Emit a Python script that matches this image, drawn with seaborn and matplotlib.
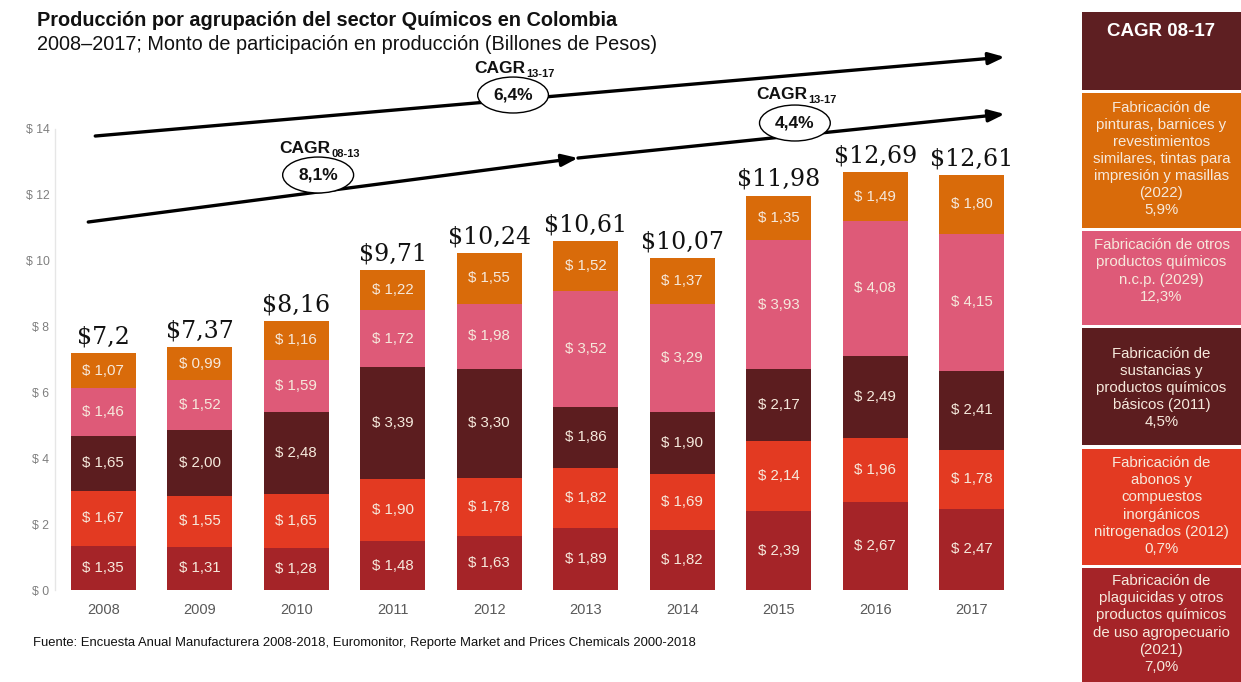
import numpy as np
import pandas as pd
import matplotlib
matplotlib.use("Agg")
import matplotlib.pyplot as plt
import seaborn as sns
from matplotlib.patches import Rectangle

# ---------------- data ----------------
years = ["2008", "2009", "2010", "2011", "2012", "2013", "2014", "2015", "2016", "2017"]
plaguicidas = [1.35, 1.31, 1.28, 1.48, 1.63, 1.89, 1.82, 2.39, 2.67, 2.47]
abonos = [1.67, 1.55, 1.65, 1.90, 1.78, 1.82, 1.69, 2.14, 1.96, 1.78]
basicos = [1.65, 2.00, 2.48, 3.39, 3.30, 1.86, 1.90, 2.17, 2.49, 2.41]
otros = [1.46, 1.52, 1.59, 1.72, 1.98, 3.52, 3.29, 3.93, 4.08, 4.15]
pinturas = [1.07, 0.99, 1.16, 1.22, 1.55, 1.52, 1.37, 1.35, 1.49, 1.80]
totals = ["$7,2", "$7,37", "$8,16", "$9,71", "$10,24", "$10,61", "$10,07", "$11,98", "$12,69", "$12,61"]
ytick_vals = [0, 2, 4, 6, 8, 10, 12, 14]

legend_texts = [
    "Fabricación de\npinturas, barnices y\nrevestimientos\nsimilares, tintas para\nimpresión y masillas\n(2022)\n5,9%",
    "Fabricación de otros\nproductos químicos\nn.c.p. (2029)\n12,3%",
    "Fabricación de\nsustancias y\nproductos químicos\nbásicos (2011)\n4,5%",
    "Fabricación de\nabonos y\ncompuestos\ninorgánicos\nnitrogenados (2012)\n0,7%",
    "Fabricación de\nplaguicidas y otros\nproductos químicos\nde uso agropecuario\n(2021)\n7,0%",
]

title = "Producción por agrupación del sector Químicos en Colombia"
subtitle = "2008–2017; Monto de participación en producción (Billones de Pesos)"
source = "Fuente: Encuesta Anual Manufacturera 2008-2018, Euromonitor, Reporte Market and Prices Chemicals 2000-2018"

# ---------------- style ----------------
sns.set_theme(style="white")
plt.rcParams["font.family"] = ["Liberation Sans", "DejaVu Sans"]

C_CRIMSON = "#A52428"
C_RED = "#E33A22"
C_DARK = "#5C1D1F"
C_PINK = "#DE5A78"
C_ORANGE = "#D96B0A"
LABEL_C = "#F6E9DC"

layers = [plaguicidas, abonos, basicos, otros, pinturas]
colors = [C_CRIMSON, C_RED, C_DARK, C_PINK, C_ORANGE]

W, H = 1241, 682
fig = plt.figure(figsize=(W / 100, H / 100), dpi=100)
fig.patch.set_facecolor("white")

# axes position in pixels: left 55, right 1020, y=0 at 590, y=14 at 129
ax = fig.add_axes([55 / W, (H - 590) / H, (1020 - 55) / W, (590 - 129) / H])

arr = np.array(layers)
cum = np.cumsum(arr, axis=0)
df = pd.DataFrame({"year": years})

# draw cumulative bars from top layer down so lower layers overlay
for i in range(len(layers) - 1, -1, -1):
    df["h"] = cum[i]
    sns.barplot(data=df, x="year", y="h", color=colors[i], saturation=1,
                width=0.67, ax=ax, edgecolor="none", linewidth=0)

# segment labels
for i, layer in enumerate(layers):
    base = cum[i] - arr[i]
    for j, v in enumerate(layer):
        ax.text(j, base[j] + v / 2, "$ " + f"{v:.2f}".replace(".", ","),
                ha="center", va="center", fontsize=10.8, color=LABEL_C)

# total labels
for j, t in enumerate(totals):
    ax.text(j, cum[-1][j] + 0.14, t, ha="center", va="bottom", fontsize=17,
            family="DejaVu Serif", color="#111111")

ax.set_xlim(-0.5, 9.5)
ax.set_ylim(0, 14)
ax.set_yticks(ytick_vals)
ax.set_yticklabels([f"$ {v}" for v in ytick_vals], color="#7F7F7F", fontsize=8.8)
ax.tick_params(axis="x", colors="#595959", labelsize=10.5, length=0, pad=9)
ax.tick_params(axis="y", length=0, pad=4)
ax.set_xlabel("")
ax.set_ylabel("")
for s in ["top", "right", "bottom"]:
    ax.spines[s].set_visible(False)
ax.spines["left"].set_color("#E6E6E6")
ax.spines["left"].set_linewidth(1)
ax.grid(False)


def px(xp, yp):
    return ((xp - 103) / 96.55, (590 - yp) / 32.93)


# ---------------- arrows ----------------
arrow_kw = dict(arrowstyle="-|>,head_length=0.8,head_width=0.3", color="black", lw=2.4,
                shrinkA=0, shrinkB=0)
ax.annotate("", xy=px(1005, 57), xytext=px(95, 136), arrowprops=arrow_kw,
            annotation_clip=False)
ax.annotate("", xy=px(578, 158), xytext=px(88, 222), arrowprops=arrow_kw,
            annotation_clip=False)
ax.annotate("", xy=px(1005, 114), xytext=px(578, 158), arrowprops=arrow_kw,
            annotation_clip=False)


def cagr(xc, yc_label, yc_ell, sub, val):
    x0, y0 = px(xc, yc_label)
    ax.text(x0, y0, "CAGR", ha="right", va="baseline", fontsize=12.5,
            fontweight="bold", color="#111111", clip_on=False)
    ax.annotate(sub, xy=(x0, y0), xytext=(1, -3), textcoords="offset points",
                ha="left", va="baseline", fontsize=8, fontweight="bold",
                color="#111111", annotation_clip=False)
    x1, y1 = px(xc - 12, yc_ell)
    ax.text(x1, y1, val, ha="center", va="center", fontsize=12.5, fontweight="bold",
            color="#111111", clip_on=False, zorder=5,
            bbox=dict(boxstyle="ellipse,pad=0.3", fc="white", ec="black", lw=1))


cagr(525, 73, 95, "13-17", "6,4%")
cagr(330, 153, 175, "08-13", "8,1%")
cagr(807, 99, 123, "13-17", "4,4%")

# ---------------- titles ----------------
fig.text(37 / W, 1 - 20 / H, title, ha="left", va="center", fontsize=14.3,
         fontweight="bold", color="#111111")
fig.text(37 / W, 1 - 45 / H, subtitle, ha="left", va="center", fontsize=14.3,
         color="#111111")
fig.text(33 / W, 1 - 643 / H, source, ha="left", va="center", fontsize=9.4,
         color="#111111")

# ---------------- right legend panel ----------------
x_left = 1082
boxes = [(12, 90, "#5E1F22"), (93, 228, C_ORANGE), (231, 325, C_PINK),
         (328, 445, C_DARK), (449, 565, C_RED), (568, 682, C_CRIMSON)]
for k, (y0, y1, c) in enumerate(boxes):
    fig.patches.append(Rectangle((x_left / W, 1 - y1 / H), (W - x_left) / W,
                                 (y1 - y0) / H, transform=fig.transFigure,
                                 facecolor=c, edgecolor="none"))
fig.text((x_left + W) / 2 / W, 1 - 32 / H, "CAGR 08-17", ha="center", va="center",
         fontsize=13.5, fontweight="bold", color="white")
centers = [159, 271, 388, 506, 624]
for k, t in enumerate(legend_texts):
    fig.text((x_left + W) / 2 / W, 1 - centers[k] / H, t, ha="center", va="center",
             fontsize=10.8, color=LABEL_C, linespacing=1.28)

fig.savefig("out.png", dpi=100)
